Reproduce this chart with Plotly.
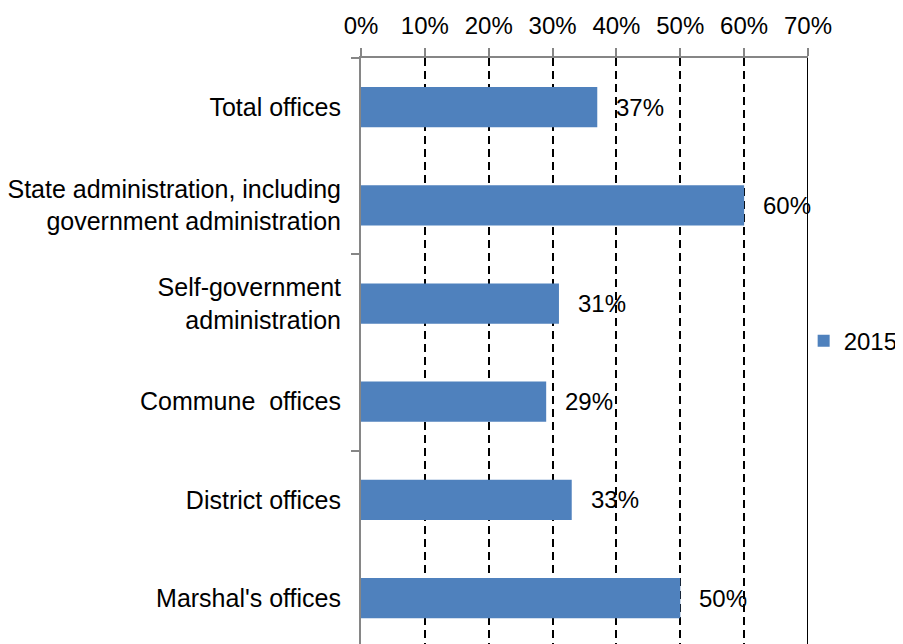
import plotly.graph_objects as go

categories = [
    "Total offices",
    "State administration, including<br>government administration",
    "Self-government<br>administration",
    "Commune\u00a0 offices",
    "District offices",
    "Marshal's offices",
]
values_2015 = [0.37, 0.60, 0.31, 0.29, 0.33, 0.50]
value_labels = ["37%", "60%", "31%", "29%", "33%", "50%"]
series_name = "2015"
x_ticks = [0, 0.1, 0.2, 0.3, 0.4, 0.5, 0.6, 0.7]
x_tick_labels = ["0%", "10%", "20%", "30%", "40%", "50%", "60%", "70%"]

FONT = "Liberation Sans"
FS = 24
GRAY = "#868686"
positions = list(range(len(categories)))
y_range = [5.467, -0.5]

fig = go.Figure()
fig.add_trace(go.Bar(
    x=values_2015, y=positions, orientation="h", name=series_name,
    marker=dict(color="#4F81BD", line=dict(width=0)), width=0.41,
    showlegend=True,
))
fig.add_trace(go.Scatter(x=[None], y=[None], yaxis="y2", showlegend=False, hoverinfo="skip"))

for v, lab, p in zip(values_2015, value_labels, positions):
    fig.add_annotation(x=v, y=p, text=lab, showarrow=False, xanchor="left",
                       yanchor="middle", xshift=17,
                       font=dict(family=FONT, size=FS, color="black"))

fig.add_shape(type="line", xref="x", yref="paper", x0=0.7, x1=0.7, y0=0, y1=1,
              line=dict(color="black", width=2), layer="above")

fig.update_layout(
    width=895, height=636,
    margin=dict(l=353, r=95, t=50, b=0, pad=0, autoexpand=False),
    paper_bgcolor="white", plot_bgcolor="white",
    font=dict(family=FONT, size=FS, color="black"),
    xaxis=dict(
        side="top", range=[0, 0.7], tickvals=x_ticks, ticktext=x_tick_labels,
        ticks="outside", ticklen=8, tickwidth=2, tickcolor=GRAY,
        showline=True, linecolor=GRAY, linewidth=2,
        showgrid=True, gridcolor="black", gridwidth=2, griddash="8px,5px",
        zeroline=False, ticklabelstandoff=4, automargin=False,
        tickfont=dict(family=FONT, size=FS, color="black"),
    ),
    yaxis=dict(
        range=y_range, tickvals=positions, ticktext=categories,
        ticks="", ticklen=0, showline=True, linecolor=GRAY, linewidth=2,
        showgrid=False, zeroline=False, ticklabelstandoff=13, automargin=False,
        tickfont=dict(family=FONT, size=25, color="black"),
    ),
    yaxis2=dict(
        overlaying="y", side="left", range=y_range,
        tickvals=[-0.5, 1.5, 3.5, 5.5], ticks="outside", ticklen=9, tickwidth=2,
        tickcolor=GRAY, showticklabels=False, showline=False, showgrid=False,
        zeroline=False, automargin=False,
    ),
    legend=dict(xref="container", yref="container", x=0.889, xanchor="left",
                y=0.476, yanchor="middle",
                font=dict(family=FONT, size=FS, color="black"),
                bgcolor="rgba(0,0,0,0)", itemwidth=30),
)

fig.write_html("out.html")
